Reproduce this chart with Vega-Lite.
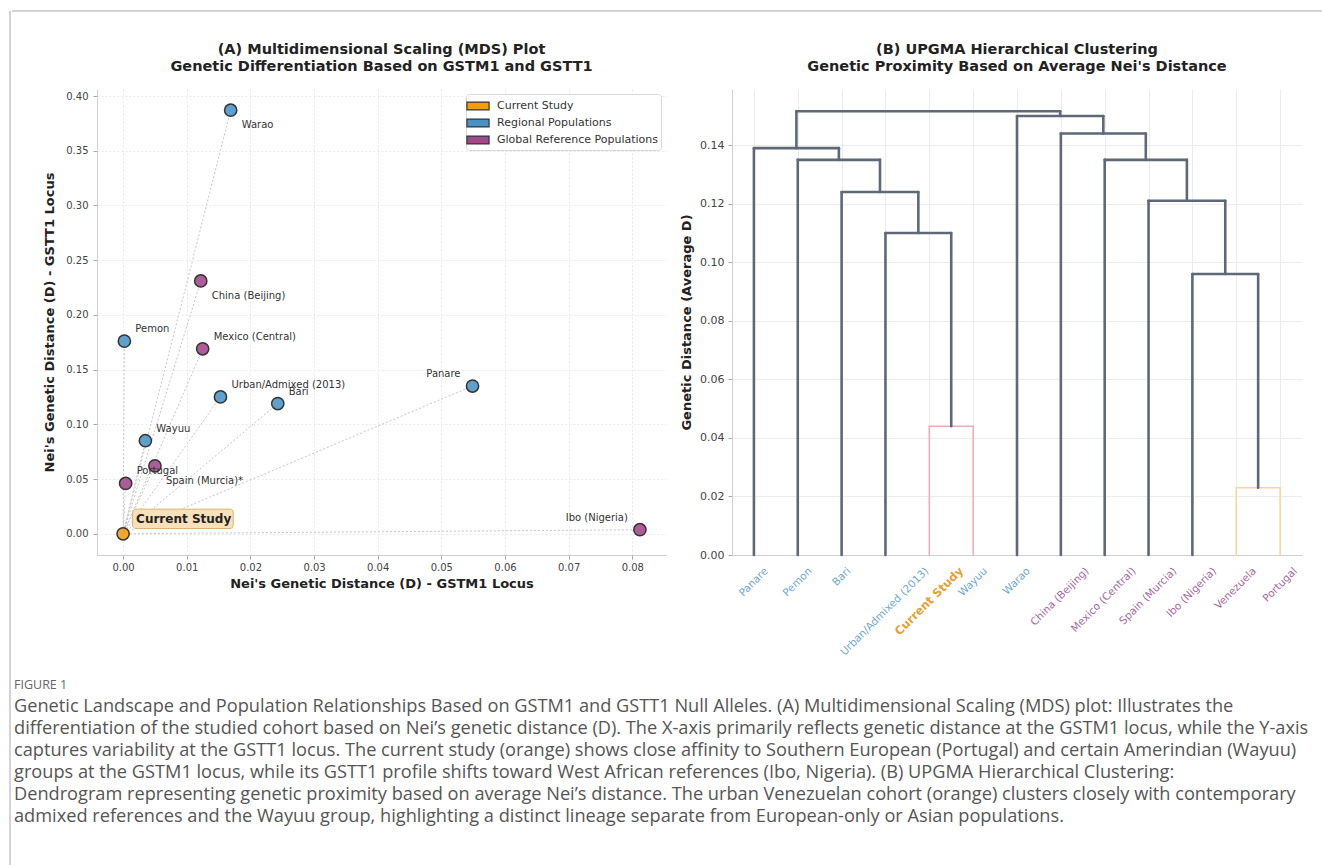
{
  "$schema": "https://vega.github.io/schema/vega-lite/v6.json",
  "padding": {"left": 9, "top": 10, "right": 0, "bottom": 0},
  "autosize": {"type": "pad"},
  "background": "white",
  "config": {
    "view": {"stroke": null},
    "font": "DejaVu Sans",
    "axis": {"labelFont": "DejaVu Sans", "titleFont": "DejaVu Sans", "labelColor": "#444444", "titleColor": "#222222", "titleFontWeight": "bold", "titleFontSize": 13, "domainColor": "#cfcfcf", "tickColor": "#a8a8a8", "tickSize": 4, "gridColor": "#e9e9e9"},
    "title": {"font": "DejaVu Sans", "fontSize": 14.5, "fontWeight": "bold", "color": "#222222", "lineHeight": 17, "anchor": "middle", "frame": "group", "offset": 15}
  },
  "spacing": 0,
  "resolve": {"scale": {"color": "independent"}, "legend": {"color": "independent"}},
  "hconcat": [
    {
      "width": 1, "height": 855,
      "data": {"values": [{"frame": "left"}]},
      "mark": {"type": "rule", "color": "#a9a9b1", "strokeWidth": 1},
      "encoding": {"x": {"datum": 0, "type": "quantitative", "scale": {"domain": [0, 1]}, "axis": null}}
    },
    {
      "spacing": 16,
      "resolve": {"scale": {"color": "independent"}, "legend": {"color": "independent"}},
      "vconcat": [
        {
          "width": 1312, "height": 14,
          "data": {"values": [{"frame": "top"}]},
          "mark": {"type": "rule", "color": "#a9a9b1", "strokeWidth": 1},
          "encoding": {"y": {"datum": 1, "type": "quantitative", "scale": {"domain": [0, 1]}, "axis": null}}
        },
        {
          "spacing": 14,
          "resolve": {"scale": {"color": "independent"}, "legend": {"color": "independent"}},
          "hconcat": [
            {
              "width": 17, "height": 466,
              "data": {"values": []},
              "mark": "point",
              "encoding": {}
            },
            {
              "width": 569, "height": 466,
              "title": {"text": ["(A) Multidimensional Scaling (MDS) Plot", "Genetic Differentiation Based on GSTM1 and GSTT1"]},
              "data": {"values": [
                {"name": "Current Study", "group": "Current Study", "gstm1": 0.0, "gstt1": 0.0},
                {"name": "Portugal", "group": "Global Reference Populations", "gstm1": 0.0004, "gstt1": 0.046},
                {"name": "Spain (Murcia)*", "group": "Global Reference Populations", "gstm1": 0.005, "gstt1": 0.062},
                {"name": "Wayuu", "group": "Regional Populations", "gstm1": 0.0035, "gstt1": 0.085},
                {"name": "Pemon", "group": "Regional Populations", "gstm1": 0.0002, "gstt1": 0.176},
                {"name": "Mexico (Central)", "group": "Global Reference Populations", "gstm1": 0.0125, "gstt1": 0.169},
                {"name": "Urban/Admixed (2013)", "group": "Regional Populations", "gstm1": 0.0153, "gstt1": 0.125},
                {"name": "Bari", "group": "Regional Populations", "gstm1": 0.0243, "gstt1": 0.119},
                {"name": "China (Beijing)", "group": "Global Reference Populations", "gstm1": 0.0122, "gstt1": 0.231},
                {"name": "Warao", "group": "Regional Populations", "gstm1": 0.0169, "gstt1": 0.387},
                {"name": "Panare", "group": "Regional Populations", "gstm1": 0.0549, "gstt1": 0.135},
                {"name": "Ibo (Nigeria)", "group": "Global Reference Populations", "gstm1": 0.0812, "gstt1": 0.0037}
              ]},
              "encoding": {
                "x": {"field": "gstm1", "type": "quantitative",
                  "scale": {"domain": [-0.0041, 0.0853], "nice": false, "zero": false},
                  "axis": {"values": [0, 0.01, 0.02, 0.03, 0.04, 0.05, 0.06, 0.07, 0.08], "format": ".2f", "title": "Nei's Genetic Distance (D) - GSTM1 Locus", "labelFontSize": 10, "labelPadding": 3, "titlePadding": 5, "grid": true, "gridDash": [2, 2]}},
                "y": {"field": "gstt1", "type": "quantitative",
                  "scale": {"domain": [-0.0194, 0.4064], "nice": false, "zero": false},
                  "axis": {"values": [0, 0.05, 0.1, 0.15, 0.2, 0.25, 0.3, 0.35, 0.4], "format": ".2f", "title": "Nei's Genetic Distance (D) - GSTT1 Locus", "labelFontSize": 10, "labelPadding": 5, "titlePadding": 9, "grid": true, "gridDash": [2, 2]}}
              },
              "layer": [
                {
                  "transform": [{"filter": "datum.name !== 'Current Study'"}],
                  "mark": {"type": "rule", "color": "#c6c6c6", "strokeDash": [2, 2], "strokeWidth": 1},
                  "encoding": {"x2": {"datum": 0}, "y2": {"datum": 0}}
                },
                {
                  "transform": [{"filter": "datum.name === 'Current Study'"}],
                  "mark": {"type": "rect", "fill": "#F5DEB3", "fillOpacity": 0.9, "stroke": "#D8B46E", "strokeWidth": 1, "cornerRadius": 3},
                  "encoding": {"x": {"datum": 0.0015}, "x2": {"datum": 0.0173}, "y": {"datum": 0.0225}, "y2": {"datum": 0.0048}}
                },
                {
                  "mark": {"type": "circle", "size": 150, "stroke": "#333333", "strokeWidth": 1.5, "fillOpacity": 0.88},
                  "encoding": {
                    "color": {"field": "group", "type": "nominal",
                      "scale": {"domain": ["Current Study", "Regional Populations", "Global Reference Populations"], "range": ["#F39C12", "#4A93C6", "#A3478D"]},
                      "legend": {"title": null, "orient": "top-right", "offset": 5, "symbolType": "M-1.4,-0.5H1.4V0.5H-1.4Z", "symbolSize": 250, "symbolStrokeColor": "#333333", "symbolStrokeWidth": 1.2, "symbolOpacity": 1, "labelFontSize": 11, "labelFont": "DejaVu Sans", "labelColor": "#333333", "labelLimit": 300, "fillColor": "#ffffff", "strokeColor": "#d8d8d8", "padding": 3, "cornerRadius": 3, "rowPadding": 1, "labelOffset": 10}}
                  }
                },
                {
                  "transform": [{"filter": {"field": "name", "oneOf": ["Pemon", "Mexico (Central)", "Urban/Admixed (2013)", "Bari", "Wayuu", "Portugal"]}}],
                  "mark": {"type": "text", "align": "left", "baseline": "middle", "dx": 11, "dy": -12, "fontSize": 10, "color": "#333333"},
                  "encoding": {"text": {"field": "name"}}
                },
                {
                  "transform": [{"filter": {"field": "name", "oneOf": ["Warao", "China (Beijing)", "Spain (Murcia)*"]}}],
                  "mark": {"type": "text", "align": "left", "baseline": "middle", "dx": 11, "dy": 15, "fontSize": 10, "color": "#333333"},
                  "encoding": {"text": {"field": "name"}}
                },
                {
                  "transform": [{"filter": {"field": "name", "oneOf": ["Panare", "Ibo (Nigeria)"]}}],
                  "mark": {"type": "text", "align": "right", "baseline": "middle", "dx": -12, "dy": -12, "fontSize": 10, "color": "#333333"},
                  "encoding": {"text": {"field": "name"}}
                },
                {
                  "transform": [{"filter": "datum.name === 'Current Study'"}],
                  "mark": {"type": "text", "align": "left", "baseline": "middle", "dx": 13, "dy": -15, "fontSize": 12, "fontWeight": "bold", "color": "#222222"},
                  "encoding": {"text": {"field": "name"}}
                }
              ]
            },
            {
              "width": 570, "height": 466,
              "title": {"text": ["(B) UPGMA Hierarchical Clustering", "Genetic Proximity Based on Average Nei's Distance"]},
              "resolve": {"scale": {"x": "independent"}},
              "layer": [
                {
                  "data": {"values": [
                    {"leaf": "Panare", "group": "Regional Populations"},
                    {"leaf": "Pemon", "group": "Regional Populations"},
                    {"leaf": "Bari", "group": "Regional Populations"},
                    {"leaf": "Urban/Admixed (2013)", "group": "Regional Populations"},
                    {"leaf": "Current Study", "group": "Current Study"},
                    {"leaf": "Wayuu", "group": "Regional Populations"},
                    {"leaf": "Warao", "group": "Regional Populations"},
                    {"leaf": "China (Beijing)", "group": "Global Reference Populations"},
                    {"leaf": "Mexico (Central)", "group": "Global Reference Populations"},
                    {"leaf": "Spain (Murcia)", "group": "Global Reference Populations"},
                    {"leaf": "Ibo (Nigeria)", "group": "Global Reference Populations"},
                    {"leaf": "Venezuela", "group": "Global Reference Populations"},
                    {"leaf": "Portugal", "group": "Global Reference Populations"}
                  ]},
                  "mark": {"type": "point", "opacity": 0},
                  "encoding": {
                    "x": {"field": "leaf", "type": "nominal", "sort": null,
                      "scale": {"type": "point", "padding": 0.5},
                      "axis": {"title": null, "labelAngle": -45, "labelAlign": "right", "labelBaseline": "middle", "ticks": false, "tickSize": 0, "labelPadding": 14, "labelFontSize": {"condition": {"test": "datum.value === 'Current Study'", "value": 11.5}, "value": 10.5}, "labelFontWeight": {"condition": {"test": "datum.value === 'Current Study'", "value": "bold"}, "value": "normal"},
                        "labelColor": {"condition": [
                          {"test": "datum.value === 'Current Study'", "value": "#E8A030"},
                          {"test": "indexof(['Panare','Pemon','Bari','Urban/Admixed (2013)','Wayuu','Warao'], datum.value) >= 0", "value": "#6FA8D0"}
                        ], "value": "#A86A9E"},
                        "labelOffset": {"condition": [
                          {"test": "datum.value === 'Panare'", "value": 12},
                          {"test": "datum.value === 'Pemon'", "value": 12},
                          {"test": "datum.value === 'Bari'", "value": 7},
                          {"test": "datum.value === 'Urban/Admixed (2013)'", "value": 41},
                          {"test": "datum.value === 'Current Study'", "value": 32},
                          {"test": "datum.value === 'Wayuu'", "value": 12},
                          {"test": "datum.value === 'Warao'", "value": 11},
                          {"test": "datum.value === 'China (Beijing)'", "value": 26},
                          {"test": "datum.value === 'Mexico (Central)'", "value": 29},
                          {"test": "datum.value === 'Spain (Murcia)'", "value": 26},
                          {"test": "datum.value === 'Ibo (Nigeria)'", "value": 22},
                          {"test": "datum.value === 'Venezuela'", "value": 18},
                          {"test": "datum.value === 'Portugal'", "value": 15}
                        ], "value": 0},
                        "labelOverlap": false, "labelLimit": 300, "grid": true, "gridColor": "#ececec", "domainColor": "#d0d0d0"}}
                  }
                },
                {
                  "data": {"values": [
                    {"left": 45, "right": 55, "hl": 0, "hr": 0, "h": 0.044, "cluster": "C1"},
                    {"left": 35, "right": 50, "hl": 0, "hr": 0.044, "h": 0.110, "cluster": "above"},
                    {"left": 25, "right": 42.5, "hl": 0, "hr": 0.110, "h": 0.124, "cluster": "above"},
                    {"left": 15, "right": 33.75, "hl": 0, "hr": 0.124, "h": 0.135, "cluster": "above"},
                    {"left": 5, "right": 24.375, "hl": 0, "hr": 0.135, "h": 0.139, "cluster": "above"},
                    {"left": 115, "right": 125, "hl": 0, "hr": 0, "h": 0.023, "cluster": "C2"},
                    {"left": 105, "right": 120, "hl": 0, "hr": 0.023, "h": 0.096, "cluster": "above"},
                    {"left": 95, "right": 112.5, "hl": 0, "hr": 0.096, "h": 0.121, "cluster": "above"},
                    {"left": 85, "right": 103.75, "hl": 0, "hr": 0.121, "h": 0.135, "cluster": "above"},
                    {"left": 75, "right": 94.375, "hl": 0, "hr": 0.135, "h": 0.144, "cluster": "above"},
                    {"left": 65, "right": 84.6875, "hl": 0, "hr": 0.144, "h": 0.150, "cluster": "above"},
                    {"left": 14.6875, "right": 74.84375, "hl": 0.139, "hr": 0.150, "h": 0.1516, "cluster": "above"}
                  ]},
                  "encoding": {
                    "color": {"field": "cluster", "type": "nominal", "scale": {"domain": ["above", "C1", "C2"], "range": ["#5E6877", "#F3A9B9", "#F8D49E"]}, "legend": null},
                    "strokeWidth": {"condition": {"test": "datum.cluster === 'above'", "value": 2.6}, "value": 1.5}
                  },
                  "layer": [
                    {
                      "mark": {"type": "rule", "strokeCap": "round"},
                      "encoding": {
                        "x": {"field": "left", "type": "quantitative", "scale": {"domain": [0, 130], "nice": false, "zero": false}, "axis": null},
                        "y": {"field": "hl", "type": "quantitative", "scale": {"domain": [0, 0.1592], "nice": false, "zero": false},
                          "axis": {"values": [0, 0.02, 0.04, 0.06, 0.08, 0.1, 0.12, 0.14], "format": ".2f", "title": "Genetic Distance (Average D)", "labelFontSize": 11, "labelPadding": 4, "titlePadding": 6, "grid": true, "gridColor": "#ececec"}},
                        "y2": {"field": "h"}
                      }
                    },
                    {
                      "mark": {"type": "rule", "strokeCap": "round"},
                      "encoding": {
                        "x": {"field": "left", "type": "quantitative"},
                        "x2": {"field": "right"},
                        "y": {"field": "h", "type": "quantitative"}
                      }
                    },
                    {
                      "mark": {"type": "rule", "strokeCap": "round"},
                      "encoding": {
                        "x": {"field": "right", "type": "quantitative"},
                        "y": {"field": "hr", "type": "quantitative"},
                        "y2": {"field": "h"}
                      }
                    }
                  ]
                }
              ]
            }
          ]
        },
        {
          "width": 1300, "height": 154,
          "data": {"values": [
            {"line": 0, "text": "FIGURE 1"},
            {"line": 1, "text": "Genetic Landscape and Population Relationships Based on GSTM1 and GSTT1 Null Alleles. (A) Multidimensional Scaling (MDS) plot: Illustrates the"},
            {"line": 2, "text": "differentiation of the studied cohort based on Nei’s genetic distance (D). The X-axis primarily reflects genetic distance at the GSTM1 locus, while the Y-axis"},
            {"line": 3, "text": "captures variability at the GSTT1 locus. The current study (orange) shows close affinity to Southern European (Portugal) and certain Amerindian (Wayuu)"},
            {"line": 4, "text": "groups at the GSTM1 locus, while its GSTT1 profile shifts toward West African references (Ibo, Nigeria). (B) UPGMA Hierarchical Clustering:"},
            {"line": 5, "text": "Dendrogram representing genetic proximity based on average Nei’s distance. The urban Venezuelan cohort (orange) clusters closely with contemporary"},
            {"line": 6, "text": "admixed references and the Wayuu group, highlighting a distinct lineage separate from European-only or Asian populations."}
          ]},
          "encoding": {
            "y": {"field": "line", "type": "ordinal", "axis": null, "scale": {"paddingInner": 0, "paddingOuter": 0}},
            "x": {"datum": 0, "type": "quantitative", "scale": {"domain": [0, 1]}, "axis": null},
            "text": {"field": "text"}
          },
          "layer": [
            {
              "transform": [{"filter": "datum.line === 0"}],
              "mark": {"type": "text", "align": "left", "baseline": "middle", "dx": 2, "font": "Open Sans", "fontSize": 12.5, "color": "#666666"}
            },
            {
              "transform": [{"filter": "datum.line > 0"}],
              "mark": {"type": "text", "align": "left", "baseline": "middle", "dx": 2, "font": "Open Sans", "fontSize": 18.2, "color": "#555555"}
            }
          ]
        }
      ]
    }
  ]
}
